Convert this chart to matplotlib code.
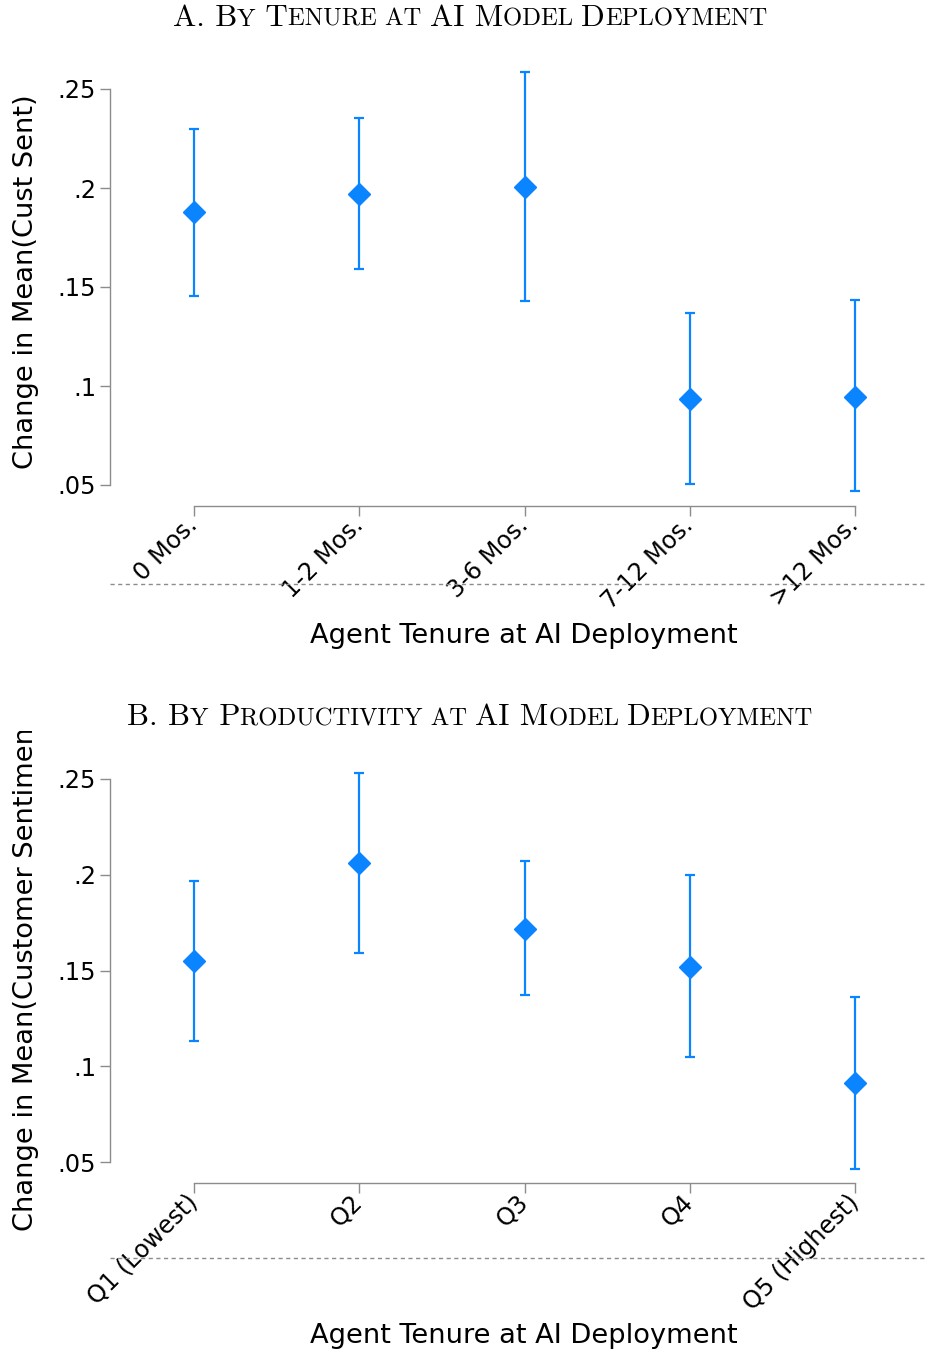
import matplotlib
matplotlib.use("Agg")
import matplotlib.pyplot as plt
from matplotlib.transforms import Bbox, TransformedBbox
import numpy as np

# panel A: by tenure
tenure_labels = ["0 Mos.", "1-2 Mos.", "3-6 Mos.", "7-12 Mos.", ">12 Mos."]
tenure_est = [0.1877, 0.1968, 0.2004, 0.0935, 0.0946]
tenure_lo = [0.1457, 0.1589, 0.1427, 0.0505, 0.0472]
tenure_hi = [0.2297, 0.2353, 0.2586, 0.1371, 0.1432]

# panel B: by productivity quintile
prod_labels = ["Q1 (Lowest)", "Q2", "Q3", "Q4", "Q5 (Highest)"]
prod_est = [0.1549, 0.2061, 0.1716, 0.1517, 0.0911]
prod_lo = [0.1130, 0.1590, 0.1371, 0.1047, 0.0461]
prod_hi = [0.1967, 0.2531, 0.2071, 0.1998, 0.1360]

yticks = [0.05, 0.10, 0.15, 0.20, 0.25]
ytick_labels = [".05", ".1", ".15", ".2", ".25"]

W, H = 928, 1353
BLUE = "#0A84FF"
GREY = "#8c8c8c"
SANS = "DejaVu Sans"

fig = plt.figure(figsize=(W / 100, H / 100), dpi=100)


def px_axes(left, top, right, bottom):
    return fig.add_axes([left / W, 1 - bottom / H, (right - left) / W, (bottom - top) / H])


def smallcaps_title(pieces, xc, yb, big=22.4, small=17.8):
    # title as a row of pieces: large caps and small caps
    r = fig.canvas.get_renderer()
    txts = []
    for s, is_big in pieces:
        t = fig.text(0, 0, s, fontsize=big if is_big else small, family="cmr10",
                     ha="left", va="baseline")
        txts.append(t)
    widths = [t.get_window_extent(r).width for t in txts]
    x = xc - sum(widths) / 2
    for t, w in zip(txts, widths):
        t.set_position((x / W, 1 - yb / H))
        x += w


def panel(est, lo, hi, labels, top, y25, y05, bottom, ylabel, ylabel_y, xlabel_y, clip_top=None):
    ax = px_axes(110, top, W, bottom)
    x = np.arange(1, len(est) + 1)
    scale = (y05 - y25) / 0.20
    ax.set_ylim(0.05 - (bottom - y05) / scale, 0.25 + (y25 - top) / scale)
    xscale = (855 - 194) / 4
    ax.set_xlim(1 - (194 - 110) / xscale, 5 + (W - 855) / xscale)

    est = np.array(est)
    err = [est - np.array(lo), np.array(hi) - est]
    ax.errorbar(x, est, yerr=err, fmt="D", color=BLUE, ms=11.5, elinewidth=1.6,
                capsize=3.5, capthick=1.6, mec=BLUE, zorder=3)
    ax.axhline(0, color=GREY, lw=1.0, ls=(0, (3, 2.5)), clip_on=False)

    for s in ["top", "right"]:
        ax.spines[s].set_visible(False)
    ax.spines["left"].set_bounds(0.05, 0.25)
    ax.spines["bottom"].set_bounds(1, 5)
    for s in ["left", "bottom"]:
        ax.spines[s].set_color(GREY)
        ax.spines[s].set_linewidth(1.0)

    ax.set_yticks(yticks)
    ax.set_yticklabels(ytick_labels, fontsize=17.3, family=SANS)
    ax.set_xticks(x)
    ax.set_xticklabels(labels, fontsize=17.3, family=SANS, rotation=45,
                       ha="right", va="center", rotation_mode="anchor")
    ax.tick_params(axis="both", color=GREY, length=7, width=1.0, pad=3)
    ax.tick_params(axis="x", pad=4)

    fig.text(524 / W, 1 - xlabel_y / H, "Agent Tenure at AI Deployment", fontsize=19.6,
             family=SANS, ha="center", va="center")
    if clip_top is None:
        fig.text(26 / W, 1 - ylabel_y / H, ylabel, fontsize=19.6, family=SANS,
                 rotation=90, ha="center", va="center")
    else:
        # label cut off at the top, as in the source graph
        t = fig.text(26 / W, 1 - ylabel_y / H, ylabel, fontsize=19.6, family=SANS,
                     rotation=90, ha="center", va="bottom")
        t.set_clip_box(TransformedBbox(Bbox([[0, 0], [1, 1 - clip_top / H]]), fig.transFigure))
        t.set_clip_on(True)
    return ax


panel(tenure_est, tenure_lo, tenure_hi, tenure_labels, 60, 89, 485, 506,
      "Change in Mean(Cust Sent)", 282, 636)
panel(prod_est, prod_lo, prod_hi, prod_labels, 750, 779, 1162, 1183,
      "Change in Mean(Customer Sentiment)", 1231, 1336, clip_top=731)

smallcaps_title([("A. B", True), ("Y", False), (" T", True), ("ENURE AT ", False),
                 ("AI M", True), ("ODEL ", False), ("D", True), ("EPLOYMENT", False)],
                470, 26)
smallcaps_title([("B. B", True), ("Y", False), (" P", True), ("RODUCTIVITY AT ", False),
                 ("AI M", True), ("ODEL ", False), ("D", True), ("EPLOYMENT", False)],
                470, 725)

fig.savefig("out.png", dpi=100)
